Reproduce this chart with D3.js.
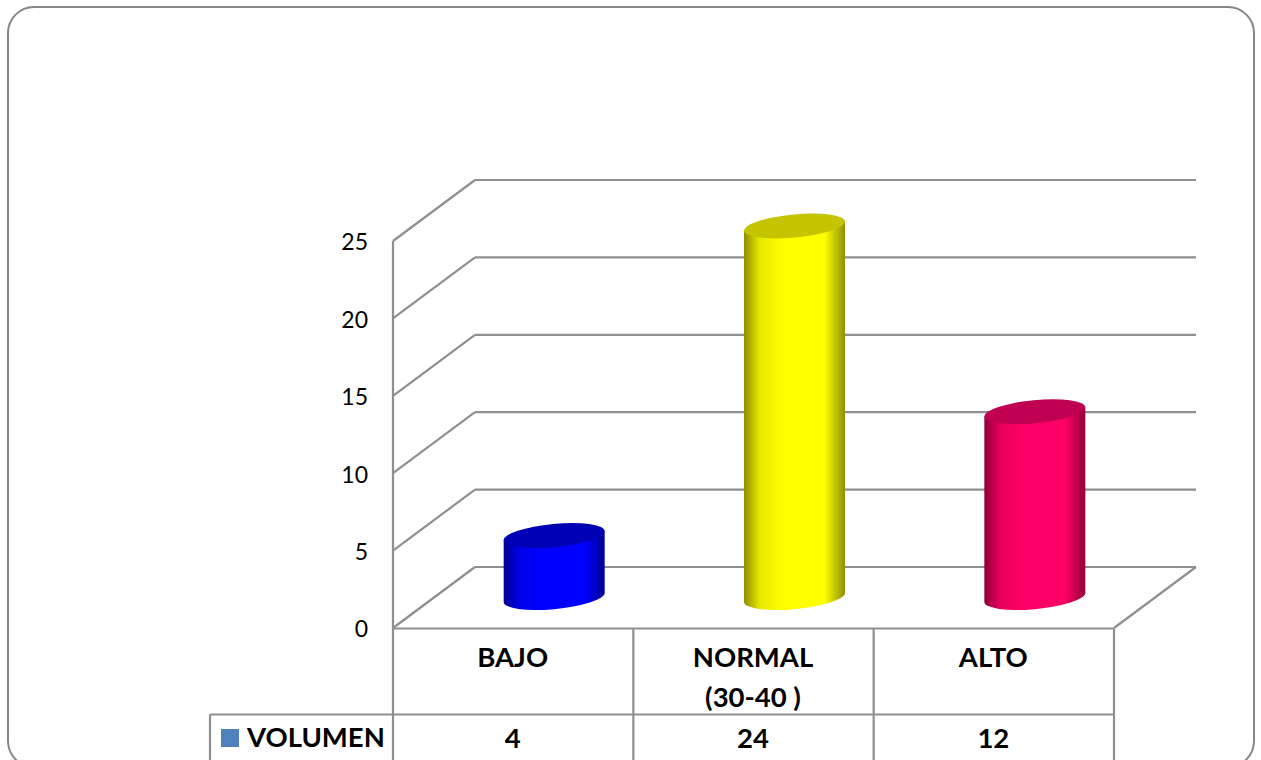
<!DOCTYPE html>
<html>
<head>
<meta charset="utf-8">
<script src="https://cdn.jsdelivr.net/npm/d3@7/dist/d3.min.js"></script>
<style>
  html, body { margin: 0; padding: 0; background: #fff; overflow: hidden; }
  svg { display: block; font-family: Lato, "Open Sans", sans-serif; }
</style>
</head>
<body>
<svg id="chart" width="1261" height="760"></svg>
<script>
// Data table contents
const categories = ["BAJO", "NORMAL|(30-40 )", "ALTO"];
const values = [4, 24, 12];
const seriesName = "VOLUMEN";
const barColors = ["#0000ff", "#ffff00", "#ff0066"];
const barEdges = ["#000090", "#8f8f00", "#900038"];
const barTops = ["#0000b4", "#c4c400", "#c00050"];
const yTicks = [0, 5, 10, 15, 20, 25];

const svg = d3.select("#chart");
const lineColor = "#8f8f8f";

// Oblique 3D box: the back wall sits up and to the right of the front plane
const depthX = 82, depthY = -61;
const frontLeft = 393, frontRight = 1114;
const y = d3.scaleLinear().domain([0, 25]).range([628, 241]);
const x = d3.scaleBand().domain(categories).range([frontLeft, frontRight]);

// Outer rounded frame, its bottom edge runs past the page
svg.append("rect")
  .attr("x", 8).attr("y", 7).attr("width", 1246).attr("height", 760)
  .attr("rx", 26).attr("ry", 26)
  .attr("fill", "#fff").attr("stroke", "#868686").attr("stroke-width", 2);

const defs = svg.append("defs");
barColors.forEach((c, i) => {
  const g = defs.append("linearGradient").attr("id", "cyl" + i)
    .attr("x1", 0).attr("x2", 1).attr("y1", 0).attr("y2", 0);
  g.append("stop").attr("offset", "0").attr("stop-color", barEdges[i]);
  g.append("stop").attr("offset", "0.16").attr("stop-color", d3.interpolateRgb(barEdges[i], c)(0.8));
  g.append("stop").attr("offset", "0.4").attr("stop-color", c);
  g.append("stop").attr("offset", "0.8").attr("stop-color", c);
  g.append("stop").attr("offset", "1").attr("stop-color", barEdges[i]);
});

// Walls: back gridlines and the diagonals running to the front plane
const walls = svg.append("g").attr("fill", "none").attr("stroke", lineColor).attr("stroke-width", 2.2);
walls.selectAll("line.back").data(yTicks).join("line").attr("class", "back")
  .attr("x1", frontLeft + depthX).attr("x2", frontRight + depthX)
  .attr("y1", d => y(d) + depthY).attr("y2", d => y(d) + depthY);
walls.selectAll("line.side").data(yTicks).join("line").attr("class", "side")
  .attr("x1", frontLeft).attr("x2", frontLeft + depthX)
  .attr("y1", d => y(d)).attr("y2", d => y(d) + depthY);
walls.append("line")
  .attr("x1", frontRight).attr("y1", y(0))
  .attr("x2", frontRight + depthX).attr("y2", y(0) + depthY);

// Data table grid under the floor
const tableTop = y(0) + 0.5, rowY = 714.5, legendLeft = 210;
const grid = svg.append("g").attr("stroke", lineColor).attr("stroke-width", 2.2);
grid.append("line").attr("x1", frontLeft).attr("x2", frontRight).attr("y1", tableTop).attr("y2", tableTop);
grid.append("line").attr("x1", legendLeft).attr("x2", frontRight).attr("y1", rowY).attr("y2", rowY);
grid.append("line").attr("x1", legendLeft).attr("x2", legendLeft).attr("y1", rowY).attr("y2", 760);
const columnEdges = categories.map(c => x(c)).concat(frontRight);
grid.selectAll("line.col").data(columnEdges).join("line").attr("class", "col")
  .attr("x1", d => d).attr("x2", d => d)
  .attr("y1", (d, i) => (i === 0 ? y(25) : tableTop)).attr("y2", 760);

// Cylinders stand in the middle of the floor depth
const rx = 50.7, ry = 11.6, tilt = -5.4, halfW = 50.5, skew = 4.5;
const bars = svg.append("g").selectAll("g").data(values).join("g");
const cx = i => x(categories[i]) + x.bandwidth() / 2 + depthX / 2;
const baseY = y(0) + depthY / 2;
const topY = d => y(d) + depthY / 2;

bars.append("path")
  .attr("fill", (d, i) => `url(#cyl${i})`)
  .attr("d", (d, i) => {
    const c = cx(i), t = topY(d);
    return `M${c - halfW},${t + skew}` +
      `L${c - halfW},${baseY + skew}` +
      `A${rx},${ry} ${tilt} 0 0 ${c + halfW},${baseY - skew}` +
      `L${c + halfW},${t - skew}Z`;
  });
bars.append("ellipse")
  .attr("rx", rx).attr("ry", ry)
  .attr("fill", (d, i) => barTops[i])
  .attr("transform", (d, i) => `translate(${cx(i)},${topY(d)}) rotate(${tilt})`);

// Value axis labels
const axis = d3.axisLeft(y).tickValues(yTicks).tickSize(0).tickPadding(0);
const axisG = svg.append("g").attr("transform", "translate(368,1.5)").call(axis);
axisG.select(".domain").remove();
axisG.selectAll("text")
  .attr("font-family", "Lato, sans-serif").attr("font-size", 23).attr("fill", "#000");

// Category names and table row
const labels = svg.append("g")
  .attr("text-anchor", "middle").attr("font-weight", 700).attr("font-size", 27.5).attr("fill", "#000");
categories.forEach(c => {
  c.split("|").forEach((line, j) => {
    labels.append("text")
      .attr("x", x(c) + x.bandwidth() / 2 - 0.5).attr("y", 667 + j * 40).text(line);
  });
});
labels.selectAll("text.val").data(values).join("text").attr("class", "val")
  .attr("x", (d, i) => x(categories[i]) + x.bandwidth() / 2 - 0.5).attr("y", 748).text(d => d);

svg.append("rect").attr("x", 221).attr("y", 729).attr("width", 18).attr("height", 18).attr("fill", "#4f81bd");
svg.append("text").attr("x", 247).attr("y", 747)
  .attr("font-weight", 700).attr("font-size", 27.5).attr("fill", "#000").text(seriesName);
</script>
</body>
</html>
